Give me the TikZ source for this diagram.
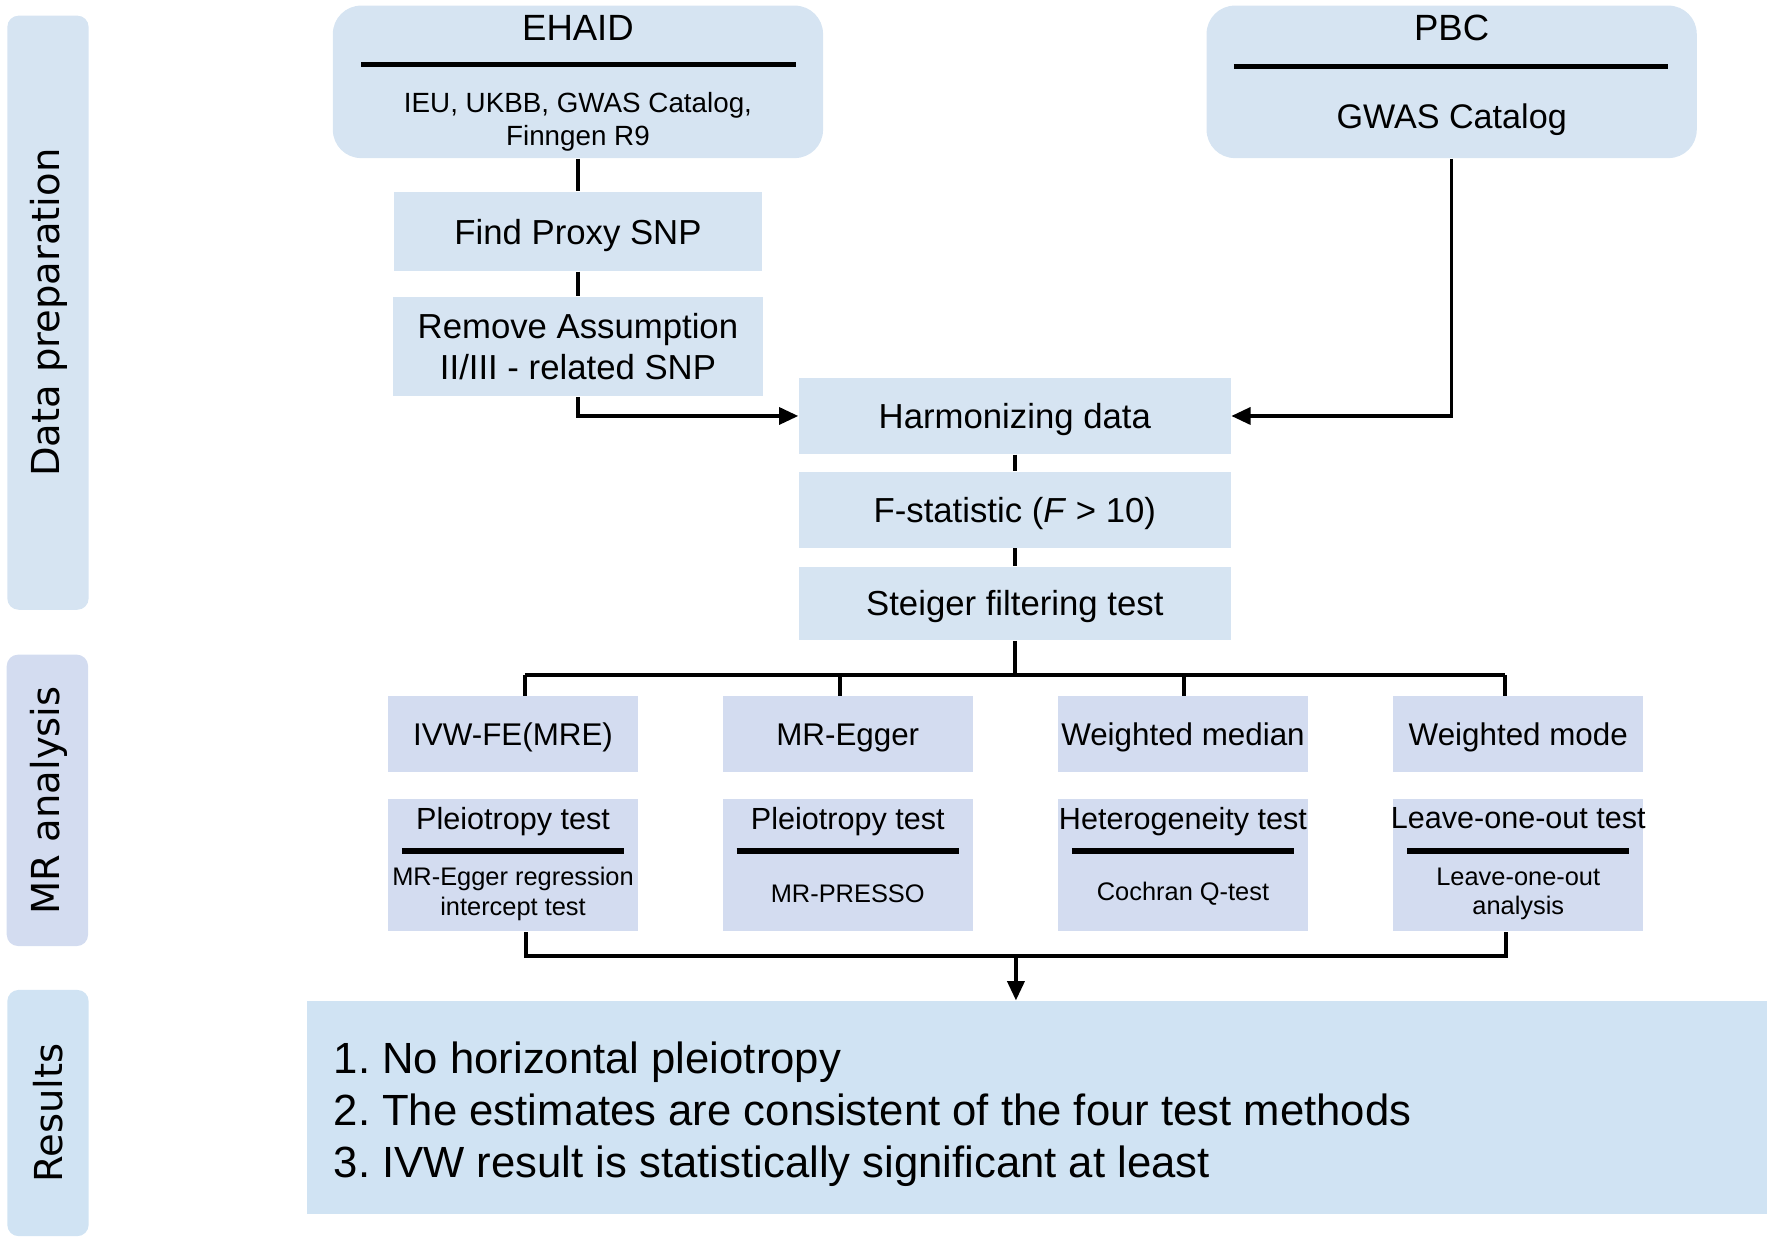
\documentclass[tikz,border=0pt]{standalone}
\usepackage{fontspec}
\setmainfont{Liberation Sans}
\newfontfamily\sidefont{DejaVu Sans}
\usepackage{xcolor}
\usepackage{tikz}
\usetikzlibrary{arrows.meta}

\definecolor{prepblue}{HTML}{D6E4F2}
\definecolor{mrblue}{HTML}{D3DCF0}
\definecolor{resblue}{HTML}{D0E3F3}

\tikzset{
    flow/.style={line width=0.9pt},
    arr/.style={flow, -{Triangle[length=0.17cm, width=0.15cm]}},
    sepline/.style={line width=1.4pt},
    sidebox/.style={fill=#1, rounded corners=0.1cm, minimum width=0.72cm, inner sep=0pt},
    sidetext/.style={rotate=90, inner sep=0pt, font=\sidefont\fontsize{9.7}{11}\selectfont},
    prepbox/.style={fill=prepblue, align=center, inner sep=0pt, font=\fontsize{8.75}{10.2}\selectfont},
    mrbox/.style={fill=mrblue, align=center, inner sep=0pt, minimum width=2.21cm},
    oneline/.style={text depth=0pt},
}

\begin{document}
\frenchspacing
\begin{tikzpicture}[x=0.01cm, y=-0.01cm]
    \useasboundingbox (0,0) rectangle (1568,1105);

    % side bars
    \node [sidebox=prepblue, minimum height=5.26cm] (sideprep) at (42.5,277) {};
    \node [sidebox=mrblue, minimum height=2.58cm] (sidemr) at (42,709) {};
    \node [sidebox=resblue, minimum height=2.18cm] (sideres) at (42.5,986) {};
    \node [sidetext] (sideprepT) at (43,277) {Data preparation};
    \node [sidetext] (sidemrT) at (43,709) {MR analysis};
    \node [sidetext] (sideresT) at (43,986) {Results};

    % sources
    \node [prepbox, rounded corners=0.25cm, minimum width=4.34cm, minimum height=1.35cm] (ehaid) at (512,72.5) {};
    \node [font=\fontsize{9.2}{11}\selectfont] (ehaidT) at (512,25) {EHAID};
    \draw [sepline] (320,57) -- (705,57);
    \node [align=center, font=\fontsize{7}{8.5}\selectfont] (ehaidS) at (512,108) {IEU, UKBB, GWAS Catalog,\\Finngen R9};

    \node [prepbox, rounded corners=0.25cm, minimum width=4.34cm, minimum height=1.35cm] (pbc) at (1286,72.5) {};
    \node [font=\fontsize{9.2}{11}\selectfont] (pbcT) at (1286,25) {PBC};
    \draw [sepline] (1093,59) -- (1478,59);
    \node [oneline, font=\fontsize{8.6}{10}\selectfont] (pbcS) at (1286,103) {GWAS Catalog};

    % data preparation
    \node [prepbox, oneline, minimum width=3.26cm, minimum height=0.70cm] (proxy) at (512,205) {Find Proxy SNP};
    \node [prepbox, minimum width=3.27cm, minimum height=0.88cm] (remove) at (512,307) {Remove Assumption\\II/III - related SNP};
    \node [prepbox, oneline, minimum width=3.82cm, minimum height=0.67cm] (harm) at (899,368.5) {Harmonizing data};
    \node [prepbox, oneline, minimum width=3.82cm, minimum height=0.67cm] (fstat) at (899,451.5) {F-statistic (\textit{F} > 10)};
    \node [prepbox, oneline, minimum width=3.82cm, minimum height=0.65cm] (steiger) at (899,534.5) {Steiger filtering test};

    \draw [flow] (ehaid.south) -- (proxy.north);
    \draw [flow] (proxy.south) -- (remove.north);
    \draw [arr] (remove.south) |- (harm.west);
    \draw [arr] (pbc.south) |- (harm.east);
    \draw [flow] (harm.south) -- (fstat.north);
    \draw [flow] (fstat.south) -- (steiger.north);

    % MR methods
    \foreach \name/\x/\lbl in {ivw/454.5/IVW-FE(MRE), egger/751/MR-Egger, wmedian/1048/Weighted median, wmode/1345/Weighted mode}
        \node [mrbox, oneline, minimum height=0.67cm, font=\fontsize{7.9}{9.5}\selectfont] (\name) at (\x,650.5) {\lbl};

    % sensitivity tests
    \foreach \name/\x/\ttl/\sub in {pleioa/454.5/Pleiotropy test/{MR-Egger regression\\intercept test},
                                    pleiob/751/Pleiotropy test/MR-PRESSO,
                                    hetero/1048/Heterogeneity test/Cochran Q-test,
                                    loo/1345/Leave-one-out test/{Leave-one-out\\analysis}} {
        \node [mrbox, minimum height=1.17cm] (\name) at (\x,766.5) {};
        \node [oneline, font=\fontsize{7.7}{9}\selectfont] (\name-ttl) at (\x,725) {\ttl};
        \draw [sepline] (\x-98.5,754) -- (\x+98.5,754);
        \node [align=center, font=\fontsize{6.4}{7.4}\selectfont] (\name-sub) at (\x,792) {\sub};
    }

    % bus lines
    \coordinate (d1) at (465,598);
    \coordinate (d2) at (744,598);
    \coordinate (d3) at (1049,598);
    \coordinate (d4) at (1333,598);
    \draw [flow] (steiger.south) -- (steiger.south |- d1);
    \draw [flow] (d1) -- (d4);
    \foreach \d/\name in {d1/ivw, d2/egger, d3/wmedian, d4/wmode}
        \draw [flow] (\d) -- (\d |- \name.north);

    \coordinate (u1) at (466,847);
    \coordinate (u4) at (1334,847);
    \coordinate (um) at (900,847);
    \draw [flow] (pleioa.south -| u1) -- (u1) -- (u4) -- (loo.south -| u4);

    % results
    \node [fill=resblue, minimum width=12.93cm, minimum height=1.88cm, inner sep=0pt] (res) at (918.5,981) {};
    \node [anchor=west, align=left, inner sep=0pt, font=\fontsize{11}{13.2}\selectfont] (restext) at (295,987)
        {1. No horizontal pleiotropy\\2. The estimates are consistent of the four test methods\\3. IVW result is statistically significant at least};
    \draw [arr] (um) -- (um |- res.north);
\end{tikzpicture}
\end{document}
